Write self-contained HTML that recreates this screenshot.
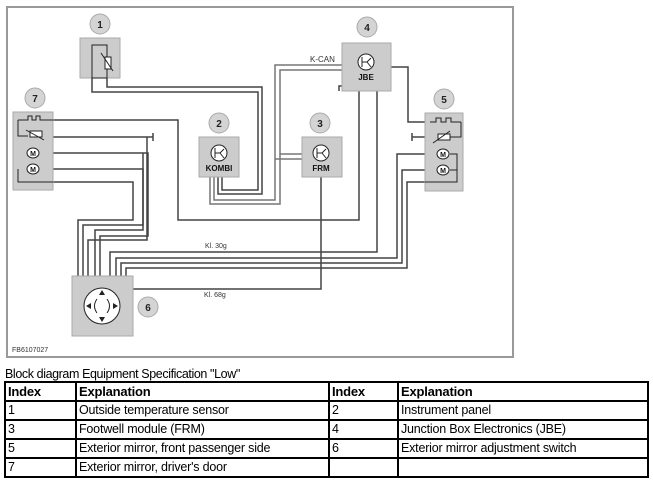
<!DOCTYPE html><html><head><style>
body{margin:0;background:#fff;width:653px;height:488px;overflow:hidden;font-family:"Liberation Sans",sans-serif}
svg{position:absolute;left:0;top:0}
.cap{position:absolute;left:5px;top:367px;font-size:12.5px;letter-spacing:-0.4px}
table{position:absolute;left:4px;top:381px;width:645px;border-collapse:collapse;font-size:12.5px;letter-spacing:-0.2px;table-layout:fixed}
td{border:2px solid #000;height:17px;padding:0 2px;line-height:15px;white-space:nowrap;overflow:hidden}
th{border:2px solid #000;height:17px;padding:0 2px;text-align:left;font-size:13px}
</style></head><body>
<svg width="653" height="370" font-family="Liberation Sans, sans-serif">
<rect x="7" y="7" width="506" height="350" fill="#fff" stroke="#999" stroke-width="2"/>
<g fill="none" stroke="#444" stroke-width="1.5">
<path d="M92 78V92H258V190H222V177"/><path d="M107 78V87H262V194H218V177"/>
<g stroke="#777"><path d="M342 65H275V200H214V177"/><path d="M342 70H280V204H210V177"/>
<path d="M280 154H302"/><path d="M275 159H302"/></g>
<path d="M53 120H178V220H359V91"/><path d="M53 137H153M153 133V141"/>
<path d="M53 153H148V236H100V276"/><path d="M53 169H143V230H95V276"/><path d="M53 182H133V220H78V276"/>
<path d="M143 153V225H83V276"/><path d="M147 137V240H88V276"/>
<path d="M377 91V252H110V276"/>
<path d="M391 67H408V122H425"/>
<path d="M425 137H412M412 133V141"/>
<path d="M425 154H397V258H116V276"/><path d="M425 170H402V263H121V276"/><path d="M425 182H407V268H126V276"/>
<path d="M133 289H321V177"/>
<path d="M342 86H339V91"/>
</g>
<text x="310" y="62" font-size="8" fill="#333">K-CAN</text>
<text x="205" y="248" font-size="7" fill="#333">Kl. 30g</text>
<text x="204" y="297" font-size="7" fill="#333">Kl. 68g</text>
<text x="12" y="352" font-size="7" fill="#333">FB6107027</text>
<g fill="#ccc" stroke="#aaa">
<rect x="80" y="38" width="40" height="40"/><rect x="13" y="112" width="40" height="78"/>
<rect x="199" y="137" width="40" height="40"/><rect x="302" y="137" width="40" height="40"/>
<rect x="342" y="43" width="49" height="48"/><rect x="425" y="113" width="38" height="78"/>
<rect x="72" y="276" width="61" height="60"/></g>
<g fill="none" stroke="#222" stroke-width="1">
<rect x="92" y="45" width="15" height="33"/><rect x="105" y="57" width="6" height="12" fill="#fff"/><path d="M101 53L113 71"/>
<circle cx="219" cy="153" r="8" fill="#fff"/><circle cx="321" cy="153" r="8" fill="#fff"/><circle cx="366" cy="62" r="8" fill="#fff"/>
<path d="M215 148V158M215 153H220L224 149M220 153L224 158"/><path d="M317 148V158M317 153H322L326 149M322 153L326 158"/><path d="M362 57V67M362 62H367L371 58M367 62L371 67"/>
<path d="M18 120H28V116H32V120H36V116H40V120H53M18 120V136H28M18 169V182H53"/>
<rect x="30" y="131" width="12" height="6" fill="#fff"/><path d="M26 130L44 140"/>
<ellipse cx="33" cy="153" rx="6" ry="5" fill="#fff"/><ellipse cx="33" cy="169" rx="6" ry="5" fill="#fff"/>
<path d="M430 122H436V118H441V122H446V118H451V122H461M461 122V137H450"/>
<rect x="438" y="134" width="12" height="6" fill="#fff"/><path d="M433 143L450 131"/>
<ellipse cx="443" cy="154" rx="6" ry="5" fill="#fff"/><ellipse cx="443" cy="170" rx="6" ry="5" fill="#fff"/><path d="M450 154H457V182H425M450 170H457"/>
<circle cx="102" cy="306" r="18" fill="#fff"/><path d="M97 299Q92 306 97 313M107 299Q112 306 107 313"/>
</g>
<g fill="#222"><path d="M102 290l-3 5h6zM102 322l-3-5h6zM86 306l5-3v6zM118 306l-5-3v6z"/></g>
<g font-size="8" font-weight="bold" text-anchor="middle" fill="#111"><text x="219" y="171">KOMBI</text><text x="321" y="171">FRM</text><text x="366" y="80">JBE</text>
<text x="33" y="156" font-size="7">M</text><text x="33" y="172" font-size="7">M</text><text x="443" y="157" font-size="7">M</text><text x="443" y="173" font-size="7">M</text></g>
<g stroke="#aaa" stroke-width="1" fill="#d4d4d4">
<circle cx="100" cy="24" r="10"/><circle cx="35" cy="98" r="10"/><circle cx="219" cy="123" r="10"/>
<circle cx="320" cy="123" r="10"/><circle cx="367" cy="27" r="10"/><circle cx="444" cy="99" r="10"/><circle cx="148" cy="307" r="10"/></g>
<g font-size="10" font-weight="bold" text-anchor="middle" fill="#222">
<text x="100" y="28">1</text><text x="35" y="102">7</text><text x="219" y="127">2</text><text x="320" y="127">3</text><text x="367" y="31">4</text><text x="444" y="103">5</text><text x="148" y="311">6</text></g>
</svg>
<div class="cap">Block diagram Equipment Specification "Low"</div>
<table>
<colgroup><col style="width:71px"><col style="width:253px"><col style="width:69px"><col></colgroup>
<tr><th>Index</th><th>Explanation</th><th>Index</th><th>Explanation</th></tr>
<tr><td>1</td><td>Outside temperature sensor</td><td>2</td><td>Instrument panel</td></tr>
<tr><td>3</td><td>Footwell module (FRM)</td><td>4</td><td>Junction Box Electronics (JBE)</td></tr>
<tr><td>5</td><td>Exterior mirror, front passenger side</td><td>6</td><td>Exterior mirror adjustment switch</td></tr>
<tr><td>7</td><td>Exterior mirror, driver's door</td><td></td><td></td></tr>
</table>
</body></html>
